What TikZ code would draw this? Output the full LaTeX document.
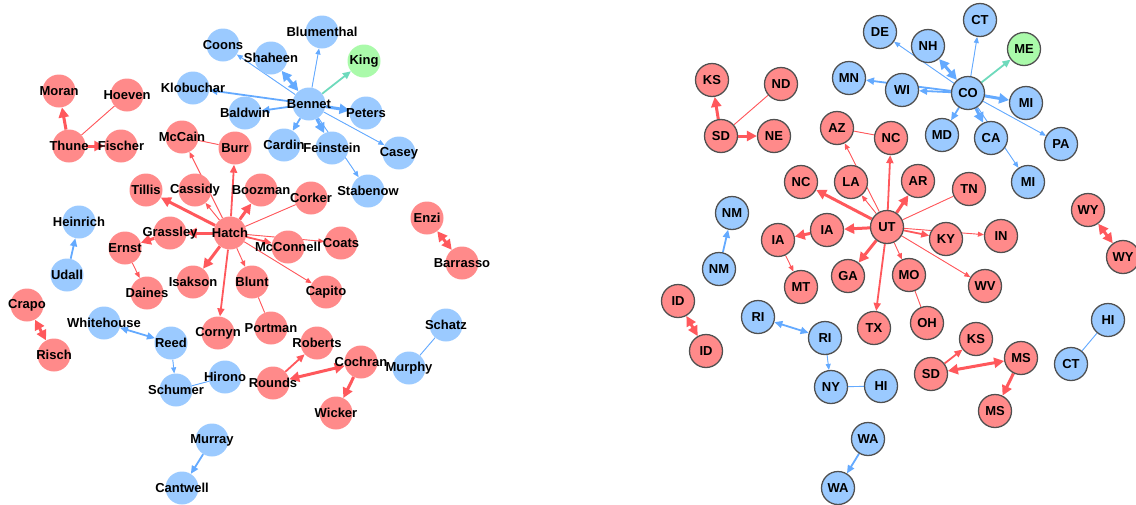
\documentclass[tikz,border=0pt]{standalone}
\usepackage{fontspec}
\setmainfont{Liberation Sans}
\usetikzlibrary{arrows.meta, backgrounds}

\definecolor{repfill}{RGB}{255,138,138}
\definecolor{demfill}{RGB}{155,202,255}
\definecolor{indfill}{RGB}{170,250,170}
\definecolor{repline}{RGB}{255,88,92}
\definecolor{demline}{RGB}{100,170,255}
\definecolor{indline}{RGB}{110,218,188}
\definecolor{outl}{RGB}{80,80,80}
\newcommand{\lbl}{\fontsize{13}{13}\selectfont\bfseries}

\tikzset{
    sen/.style={circle, minimum size=33pt, inner sep=0pt, label={[font=\lbl, inner sep=0pt]center:#1}},
    st/.style={circle, minimum size=33pt, inner sep=0pt, draw=outl, line width=1.3pt, font=\lbl},
    rep/.style={fill=repfill}, dem/.style={fill=demfill}, ind/.style={fill=indfill},
    redl/.style={draw=repline, fill=repline}, bluel/.style={draw=demline, fill=demline}, teall/.style={draw=indline, fill=indline},
    w1/.style={line width=0.9pt, >={Triangle[length=6pt, width=5pt]}},
    w2/.style={line width=1.8pt, >={Triangle[length=8pt, width=7pt]}},
    w3/.style={line width=3pt, >={Triangle[length=10pt, width=10pt]}},
}

\begin{document}
\begin{tikzpicture}[x=1pt, y=-1pt]
    \useasboundingbox (0,0) rectangle (1136,504);

    % senators
    \node[sen=Bennet, dem] (bennet) at (309,104) {};
    \node[sen=Coons, dem] (coons) at (223,45) {};
    \node[sen=Shaheen, dem] (shaheen) at (271,58) {};
    \node[sen=Blumenthal, dem] (blumenthal) at (322,32) {};
    \node[sen=King, ind] (king) at (364,61) {};
    \node[sen=Klobuchar, dem] (klobuchar) at (193,88) {};
    \node[sen=Baldwin, dem] (baldwin) at (245,113) {};
    \node[sen=Peters, dem] (peters) at (366,113) {};
    \node[sen=Cardin, dem] (cardin) at (284,145) {};
    \node[sen=Feinstein, dem] (feinstein) at (332,148) {};
    \node[sen=Casey, dem] (casey) at (399,153) {};
    \node[sen=Stabenow, dem] (stabenow) at (368,191) {};
    \node[sen=Moran, rep] (moran) at (59,91) {};
    \node[sen=Hoeven, rep] (hoeven) at (127,95) {};
    \node[sen=Thune, rep] (thune) at (69,146) {};
    \node[sen=Fischer, rep] (fischer) at (121,146) {};
    \node[sen=McCain, rep] (mccain) at (182,137) {};
    \node[sen=Burr, rep] (burr) at (235,148) {};
    \node[sen=Tillis, rep] (tillis) at (146,190) {};
    \node[sen=Cassidy, rep] (cassidy) at (195,190) {};
    \node[sen=Boozman, rep] (boozman) at (261,190) {};
    \node[sen=Corker, rep] (corker) at (311,198) {};
    \node[sen=Hatch, rep] (hatch) at (230,233) {};
    \node[sen=Grassley, rep] (grassley) at (170,233) {};
    \node[sen=Ernst, rep] (ernst) at (125,248) {};
    \node[sen=McConnell, rep] (mcconnell) at (288,247) {};
    \node[sen=Coats, rep] (coats) at (341,243) {};
    \node[sen=Daines, rep] (daines) at (147,293) {};
    \node[sen=Isakson, rep] (isakson) at (193,282) {};
    \node[sen=Blunt, rep] (blunt) at (252,282) {};
    \node[sen=Capito, rep] (capito) at (326,292) {};
    \node[sen=Cornyn, rep] (cornyn) at (218,333) {};
    \node[sen=Portman, rep] (portman) at (271,328) {};
    \node[sen=Heinrich, dem] (heinrich) at (79,222) {};
    \node[sen=Udall, dem] (udall) at (67,275) {};
    \node[sen=Enzi, rep] (enzi) at (427,218) {};
    \node[sen=Barrasso, rep] (barrasso) at (462,263) {};
    \node[sen=Crapo, rep] (crapo) at (27,305) {};
    \node[sen=Risch, rep] (risch) at (54,355) {};
    \node[sen=Whitehouse, dem] (whitehouse) at (104,323) {};
    \node[sen=Reed, dem] (reed) at (171,343) {};
    \node[sen=Schumer, dem] (schumer) at (176,390) {};
    \node[sen=Hirono, dem] (hirono) at (225,377) {};
    \node[sen=Roberts, rep] (roberts) at (317,343) {};
    \node[sen=Rounds, rep] (rounds) at (273,383) {};
    \node[sen=Cochran, rep] (cochran) at (361,362) {};
    \node[sen=Wicker, rep] (wicker) at (336,413) {};
    \node[sen=Schatz, dem] (schatz) at (446,325) {};
    \node[sen=Murphy, dem] (murphy) at (409,368) {};
    \node[sen=Murray, dem] (murray) at (212,440) {};
    \node[sen=Cantwell, dem] (cantwell) at (182,488) {};

    % states
    \node[st, dem] (co) at (968,93) {CO};
    \node[st, dem] (de) at (880,32) {DE};
    \node[st, dem] (nh) at (928,46) {NH};
    \node[st, dem] (ct) at (980,20) {CT};
    \node[st, ind] (me) at (1024,49) {ME};
    \node[st, dem] (mn) at (849,78) {MN};
    \node[st, dem] (wi) at (902,90) {WI};
    \node[st, dem] (mi) at (1026,103) {MI};
    \node[st, dem] (md) at (942,135) {MD};
    \node[st, dem] (ca) at (991,138) {CA};
    \node[st, dem] (pa) at (1061,144) {PA};
    \node[st, dem] (mib) at (1028,182) {MI};
    \node[st, rep] (ks) at (712,80) {KS};
    \node[st, rep] (nd) at (781,84) {ND};
    \node[st, rep] (sd) at (721,136) {SD};
    \node[st, rep] (ne) at (774,136) {NE};
    \node[st, rep] (az) at (837,128) {AZ};
    \node[st, rep] (nc) at (891,138) {NC};
    \node[st, rep] (ncb) at (801,182) {NC};
    \node[st, rep] (la) at (851,182) {LA};
    \node[st, rep] (ar) at (918,181) {AR};
    \node[st, rep] (tn) at (969,189) {TN};
    \node[st, rep] (ut) at (887,227) {UT};
    \node[st, rep] (ia) at (827,230) {IA};
    \node[st, rep] (iab) at (778,240) {IA};
    \node[st, rep] (ky) at (946,239) {KY};
    \node[st, rep] (in) at (1001,236) {IN};
    \node[st, rep] (mt) at (801,287) {MT};
    \node[st, rep] (ga) at (848,276) {GA};
    \node[st, rep] (mo) at (909,275) {MO};
    \node[st, rep] (wv) at (985,286) {WV};
    \node[st, rep] (tx) at (874,328) {TX};
    \node[st, rep] (oh) at (927,323) {OH};
    \node[st, dem] (nm) at (732,213) {NM};
    \node[st, dem] (nmb) at (719,269) {NM};
    \node[st, rep] (wy) at (1088,210) {WY};
    \node[st, rep] (wyb) at (1123,257) {WY};
    \node[st, rep] (id) at (678,301) {ID};
    \node[st, rep] (idb) at (706,351) {ID};
    \node[st, dem] (ri) at (758,317) {RI};
    \node[st, dem] (rib) at (825,338) {RI};
    \node[st, dem] (ny) at (831,387) {NY};
    \node[st, dem] (hi) at (881,386) {HI};
    \node[st, rep] (ksb) at (976,339) {KS};
    \node[st, rep] (sdb) at (931,374) {SD};
    \node[st, rep] (ms) at (1021,358) {MS};
    \node[st, rep] (msb) at (995,411) {MS};
    \node[st, dem] (hib) at (1108,320) {HI};
    \node[st, dem] (ctb) at (1071,364) {CT};
    \node[st, dem] (wa) at (868,439) {WA};
    \node[st, dem] (wab) at (838,488) {WA};

    \begin{scope}[on background layer]
    % senators
    \draw[bluel, w1, ->] (bennet) -- (coons);
    \draw[bluel, w3, <->] (bennet) -- (shaheen);
    \draw[bluel, w1, ->] (bennet) -- (blumenthal);
    \draw[teall, w2, ->] (bennet) -- (king);
    \draw[bluel, w2, ->] (bennet) -- (klobuchar);
    \draw[bluel, w2, ->] (bennet) -- (baldwin);
    \draw[bluel, w3, ->] (bennet) -- (peters);
    \draw[bluel, w2, ->] (bennet) -- (cardin);
    \draw[bluel, w3, ->] (bennet) -- (feinstein);
    \draw[bluel, w1, ->] (bennet) -- (casey);
    \draw[bluel, w1, ->] (bennet) -- (stabenow);
    \draw[redl, w3, ->] (thune) -- (moran);
    \draw[redl, w1] (thune) -- (hoeven);
    \draw[redl, w3, ->] (thune) -- (fischer);
    \draw[redl, w1] (mccain) -- (burr);
    \draw[redl, w1, ->] (hatch) -- (mccain);
    \draw[redl, w2, ->] (hatch) -- (burr);
    \draw[redl, w3, ->] (hatch) -- (tillis);
    \draw[redl, w1, ->] (hatch) -- (cassidy);
    \draw[redl, w3, ->] (hatch) -- (boozman);
    \draw[redl, w1] (hatch) -- (corker);
    \draw[redl, w3, ->] (hatch) -- (grassley);
    \draw[redl, w3, ->] (grassley) -- (ernst);
    \draw[redl, w1, ->] (ernst) -- (daines);
    \draw[redl, w2, ->] (hatch) -- (mcconnell);
    \draw[redl, w1, ->] (hatch) -- (coats);
    \draw[redl, w3, ->] (hatch) -- (isakson);
    \draw[redl, w2, ->] (hatch) -- (cornyn);
    \draw[redl, w1, ->] (hatch) -- (blunt);
    \draw[redl, w1] (blunt) -- (portman);
    \draw[redl, w1, ->] (hatch) -- (capito);
    \draw[bluel, w2, ->] (udall) -- (heinrich);
    \draw[redl, w3, <->] (enzi) -- (barrasso);
    \draw[redl, w3, <->] (crapo) -- (risch);
    \draw[bluel, w2, <->] (whitehouse) -- (reed);
    \draw[bluel, w1, ->] (reed) -- (schumer);
    \draw[bluel, w1] (schumer) -- (hirono);
    \draw[redl, w2, ->] (rounds) -- (roberts);
    \draw[redl, w3, <->] (cochran) -- (rounds);
    \draw[redl, w3, ->] (cochran) -- (wicker);
    \draw[bluel, w1] (schatz) -- (murphy);
    \draw[bluel, w2, ->] (murray) -- (cantwell);
    % states
    \draw[bluel, w1, ->] (co) -- (de);
    \draw[bluel, w3, <->] (co) -- (nh);
    \draw[bluel, w1, ->] (co) -- (ct);
    \draw[teall, w2, ->] (co) -- (me);
    \draw[bluel, w2, ->] (co) -- (mn);
    \draw[bluel, w2, ->] (co) -- (wi);
    \draw[bluel, w3, ->] (co) -- (mi);
    \draw[bluel, w2, ->] (co) -- (md);
    \draw[bluel, w3, ->] (co) -- (ca);
    \draw[bluel, w1, ->] (co) -- (pa);
    \draw[bluel, w1, ->] (co) -- (mib);
    \draw[redl, w3, ->] (sd) -- (ks);
    \draw[redl, w1] (sd) -- (nd);
    \draw[redl, w3, ->] (sd) -- (ne);
    \draw[redl, w1] (az) -- (nc);
    \draw[redl, w1, ->] (ut) -- (az);
    \draw[redl, w2, ->] (ut) -- (nc);
    \draw[redl, w3, ->] (ut) -- (ncb);
    \draw[redl, w1, ->] (ut) -- (la);
    \draw[redl, w3, ->] (ut) -- (ar);
    \draw[redl, w1] (ut) -- (tn);
    \draw[redl, w3, ->] (ut) -- (ia);
    \draw[redl, w3, ->] (ia) -- (iab);
    \draw[redl, w1, ->] (iab) -- (mt);
    \draw[redl, w2, ->] (ut) -- (ky);
    \draw[redl, w1, ->] (ut) -- (in);
    \draw[redl, w3, ->] (ut) -- (ga);
    \draw[redl, w2, ->] (ut) -- (tx);
    \draw[redl, w1, ->] (ut) -- (mo);
    \draw[redl, w1] (mo) -- (oh);
    \draw[redl, w1, ->] (ut) -- (wv);
    \draw[bluel, w2, ->] (nmb) -- (nm);
    \draw[redl, w3, <->] (wy) -- (wyb);
    \draw[redl, w3, <->] (id) -- (idb);
    \draw[bluel, w2, <->] (ri) -- (rib);
    \draw[bluel, w1, ->] (rib) -- (ny);
    \draw[bluel, w1] (ny) -- (hi);
    \draw[redl, w2, ->] (sdb) -- (ksb);
    \draw[redl, w3, <->] (ms) -- (sdb);
    \draw[redl, w3, ->] (ms) -- (msb);
    \draw[bluel, w1] (hib) -- (ctb);
    \draw[bluel, w2, ->] (wa) -- (wab);
    \end{scope}
\end{tikzpicture}
\end{document}
